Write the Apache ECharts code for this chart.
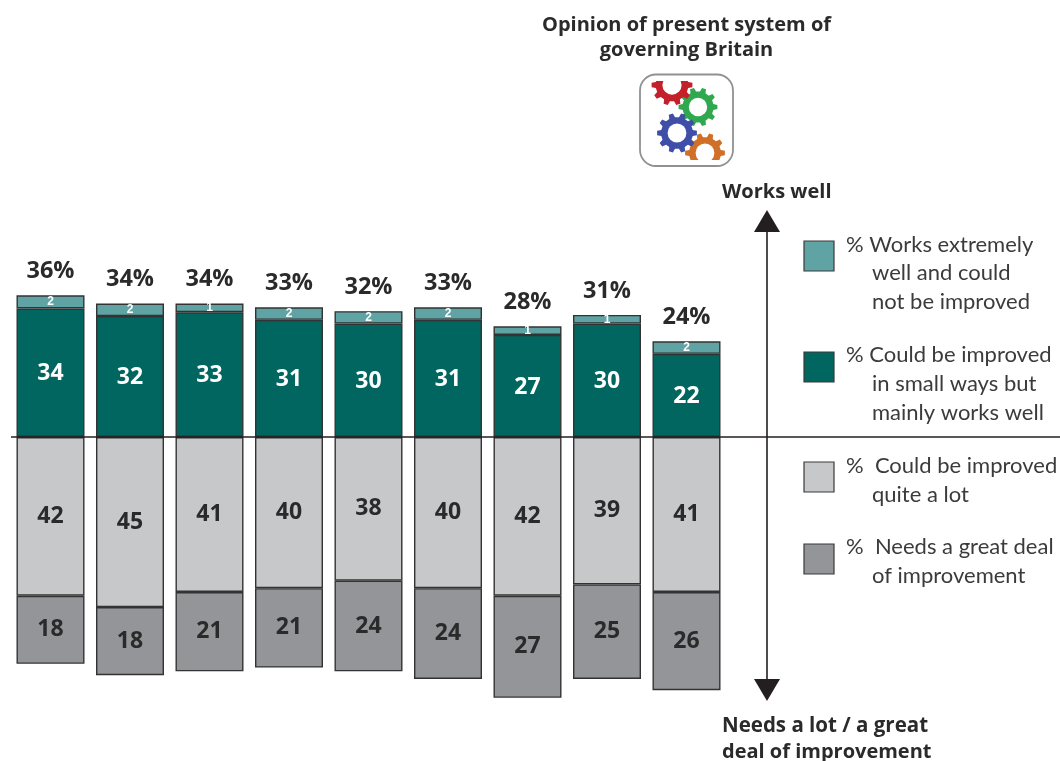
<!DOCTYPE html>
<html><head><meta charset="utf-8">
<style>html,body{margin:0;padding:0;background:#fff}#c{width:1060px;height:761px}</style>
<script src="https://cdn.jsdelivr.net/npm/echarts@6/dist/echarts.min.js"></script>
</head><body><div id="c"></div>
<script>
const categories = ['1','2','3','4','5','6','7','8','9'];
const totals = [36,34,34,33,32,33,28,31,24];
const extremelyLabels = [2,2,1,2,2,2,1,1,2];
// height of the top segment as actually drawn in the source (it is thicker than its printed value)
const extremelyDrawn = [3.5,3.3,2.3,3.3,3.3,3.3,2.3,2.3,3.3];
const smallWays = [34,32,33,31,30,31,27,30,22];
const quiteALot = [42,45,41,40,38,40,42,39,41];
const greatDeal = [18,18,21,21,24,24,27,25,26];
const legendColors = ['#5fa3a5','#00665f','#c7c8ca','#939598'];

const bold = '"Open Sans", sans-serif';
const reg = 'Lato, sans-serif';
const ink = '#2b2a2b';
const border = {borderColor:'#333', borderWidth:1.4};

function gear(cx,cy,r,color,z){
  const pts=[], n=10, inner=r*0.8;
  for(let i=0;i<n;i++){
    const a=i*2*Math.PI/n, w=2*Math.PI/n;
    [[-0.30,inner],[-0.17,r],[0.17,r],[0.30,inner]].forEach(p=>{
      pts.push([cx+p[1]*Math.cos(a+p[0]*w), cy+p[1]*Math.sin(a+p[0]*w)]);
    });
  }
  return [
    {type:'polygon',z:z,shape:{points:pts},style:{fill:color}},
    {type:'circle',z:z,shape:{cx:cx,cy:cy,r:r*0.47},style:{fill:'#fff'}}
  ];
}
function txt(x,y,t,font,weight,size,fill,align){
  return {type:'text',z:20,x:x,y:y,style:{text:t,fontFamily:font,fontWeight:weight,fontSize:size,fill:fill,
    align:align||'left',verticalAlign:'middle'}};
}
const legendItems = [
  {y:241,color:legendColors[0],lines:[[846,245,'% Works extremely'],[872,273,'well and could'],[872,302,'not be improved']]},
  {y:352,color:legendColors[1],lines:[[846,355,'% Could be improved'],[872,384,'in small ways but'],[872,413,'mainly works well']]},
  {y:462,color:legendColors[2],lines:[[846,466,'%  Could be improved'],[872,495,'quite a lot']]},
  {y:544,color:legendColors[3],lines:[[846,547,'%  Needs a great deal'],[872,576,'of improvement']]}
];
const graphic = [];
// baseline
graphic.push({type:'line',z:10,shape:{x1:11,y1:437,x2:1060,y2:437},style:{stroke:'#231f20',lineWidth:1.3}});
// double arrow
graphic.push({type:'line',z:11,shape:{x1:767,y1:228,x2:767,y2:684},style:{stroke:'#231f20',lineWidth:1.6}});
graphic.push({type:'polygon',z:11,shape:{points:[[767,210],[780,232],[754,232]]},style:{fill:'#231f20'}});
graphic.push({type:'polygon',z:11,shape:{points:[[767,701],[780,679],[754,679]]},style:{fill:'#231f20'}});
// icon
graphic.push(...gear(698,107,19.5,'#2fa84f',3));
graphic.push(...gear(672,85,20.5,'#c4202b',4));
graphic.push(...gear(705,153,20,'#cf6f28',5));
graphic.push(...gear(677,133,20,'#3f4fa8',6));
graphic.push({type:'rect',z:7,shape:{x:645,y:63,width:55,height:18},style:{fill:'#fff'}});
graphic.push({type:'rect',z:7,shape:{x:680,y:160,width:50,height:14},style:{fill:'#fff'}});
graphic.push({type:'rect',z:8,shape:{x:640,y:74.5,width:93,height:91.5,r:16},style:{fill:'none',stroke:'#8f9194',lineWidth:1.8}});
// axis end labels
graphic.push(txt(722,192,'Works well',bold,700,20,ink));
graphic.push(txt(722,726,'Needs a lot / a great',bold,700,20.5,ink));
graphic.push(txt(722,752,'deal of improvement',bold,700,20,ink));
// legend
legendItems.forEach(it=>{
  graphic.push({type:'rect',z:12,shape:{x:804,y:it.y,width:30,height:30},style:{fill:it.color,stroke:'#3a3a3a',lineWidth:1.2}});
  it.lines.forEach(l=>graphic.push(txt(l[0],l[1],l[2],reg,400,22,'#3c3b3c')));
});

const chart = echarts.init(document.getElementById('c'),null,{renderer:'canvas'});
chart.setOption({
  animation:false,
  backgroundColor:'#fff',
  title:{text:'Opinion of present system of\ngoverning Britain',left:681.5,top:8,textAlign:'center',
    textStyle:{fontFamily:bold,fontWeight:700,fontSize:20,color:ink,lineHeight:25}},
  grid:{left:10.75,width:715.5,top:285.8,height:434.7},
  xAxis:{type:'category',data:categories,show:false},
  yAxis:{type:'value',min:-75,max:40,show:false,splitLine:{show:false}},
  series:[
    {name:'Could be improved in small ways but mainly works well',type:'bar',stack:'a',barWidth:68,data:smallWays,
      itemStyle:Object.assign({color:legendColors[1]},border),
      label:{show:true,position:'inside',color:'#fff',fontFamily:bold,fontWeight:700,fontSize:23,offset:[0,1]}},
    {name:'Works extremely well and could not be improved',type:'bar',stack:'a',data:extremelyDrawn,
      itemStyle:Object.assign({color:legendColors[0]},border),
      label:{show:true,position:'inside',color:'#fff',fontFamily:'"Liberation Sans", sans-serif',fontWeight:700,fontSize:12,
        formatter:p=>extremelyLabels[p.dataIndex]}},
    {name:'Total',type:'bar',stack:'a',data:categories.map(()=>0),itemStyle:{color:'transparent'},
      label:{show:true,position:'top',distance:12,color:ink,fontFamily:bold,fontWeight:700,fontSize:23.5,
        formatter:p=>totals[p.dataIndex]+'%'}},
    {name:'Could be improved quite a lot',type:'bar',stack:'a',data:quiteALot.map(v=>-v),
      itemStyle:Object.assign({color:legendColors[2]},border),
      label:{show:true,position:'inside',color:ink,fontFamily:bold,fontWeight:700,fontSize:23,formatter:p=>-p.value}},
    {name:'Needs a great deal of improvement',type:'bar',stack:'a',data:greatDeal.map(v=>-v),
      itemStyle:Object.assign({color:legendColors[3]},border),
      label:{show:true,position:'inside',color:ink,fontFamily:bold,fontWeight:700,fontSize:23,formatter:p=>-p.value}}
  ],
  graphic:{elements:graphic}
});
</script></body></html>
